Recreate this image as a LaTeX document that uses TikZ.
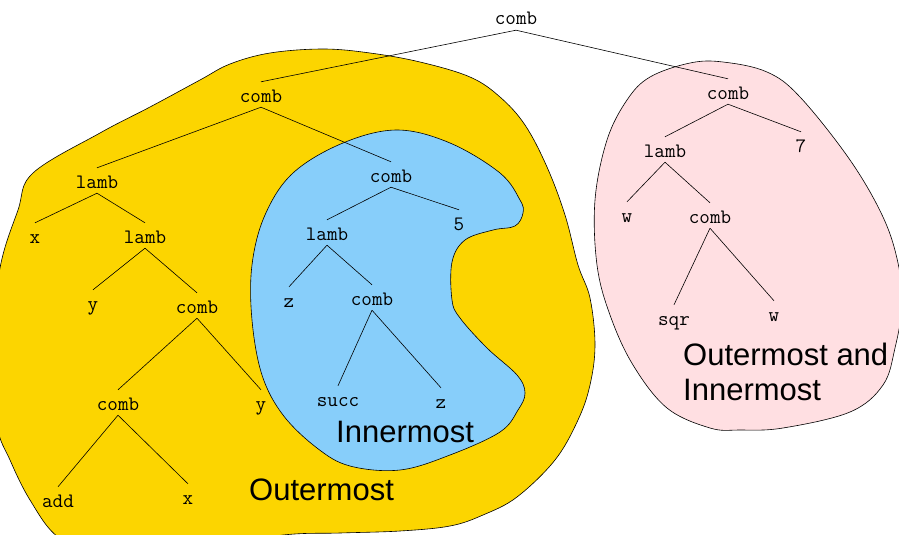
\documentclass[tikz,border=0pt]{standalone}
\usepackage{fontspec}
\newfontfamily\regionfont{Liberation Sans}
\definecolor{outerfill}{RGB}{252,213,0}
\definecolor{innerfill}{RGB}{135,206,250}
\definecolor{bothfill}{RGB}{255,223,226}

\begin{document}
\begin{tikzpicture}[x=1pt, y=-1pt,
  term/.style={font=\ttfamily\fontsize{20.5}{22}\selectfont, anchor=base, inner xsep=1pt, inner ysep=2pt, text height=18pt, text depth=3pt},
  edge/.style={black, line width=0.6pt},
  region/.style={draw=black, line width=0.6pt},
  regionlabel/.style={font=\regionfont\fontsize{31}{35}\selectfont, inner sep=0pt, align=left}]
  \useasboundingbox (0,0) rectangle (899,535);
  \clip (0,0) rectangle (899,535);
  % regions
  \draw[region, fill=outerfill] plot[smooth cycle, tension=0.6] coordinates {(33,173) (100,133) (150,107) (200,80) (230,64) (270,53) (323,49) (370,53) (420,62) (470,77) (500,97) (525,125) (547,167) (565,215) (578,265) (590,298) (595,345) (590,385) (578,420) (555,460) (517,497) (483,515) (450,526) (400,531) (340,533) (283,535) (200,548) (100,552) (58,537) (30,500) (10,460) (-3,425) (-8,350) (0,268) (18,210)};
  \draw[region, fill=innerfill] plot[smooth cycle, tension=0.6] coordinates {(397,130) (450,143) (500,173) (520,200) (523,213) (515,226) (493,230) (465,240) (452,262) (452,300) (460,318) (487,348) (517,375) (525,393) (518,410) (500,432) (450,455) (400,470) (350,466) (317,448) (283,415) (262,375) (252,320) (252,265) (265,215) (293,173) (343,143)};
  \draw[region, fill=bothfill] plot[smooth cycle, tension=0.6] coordinates {(723,62) (767,72) (800,97) (850,160) (883,217) (898,263) (902,305) (895,348) (883,385) (850,412) (783,428) (740,430) (710,428) (667,408) (633,365) (610,315) (597,265) (595,200) (607,140) (627,100) (650,77) (690,63)};
  % terms
  \node[term] (top) at (516,25) {comb};
  \node[term] (comb1) at (261,102) {comb};
  \node[term] (lamb1) at (97,188) {lamb};
  \node[term] (x1) at (35,243) {x};
  \node[term] (lamb2) at (145,243) {lamb};
  \node[term] (y1) at (93,310) {y};
  \node[term] (comb2) at (197,313) {comb};
  \node[term] (comb3) at (118,410) {comb};
  \node[term] (y2) at (261,410) {y};
  \node[term] (add) at (58,507) {add};
  \node[term] (x2) at (188,504) {x};
  \node[term] (combB) at (391,182) {comb};
  \node[term] (lambB) at (327,240) {lamb};
  \node[term] (five) at (459,230) {5};
  \node[term] (z1) at (289,307) {z};
  \node[term] (combB2) at (372,305) {comb};
  \node[term] (succ) at (338,406) {succ};
  \node[term] (z2) at (441,408) {z};
  \node[term] (combP) at (728,99) {comb};
  \node[term] (lambP) at (665,157) {lamb};
  \node[term] (seven) at (801,152) {7};
  \node[term] (w1) at (627,222) {w};
  \node[term] (combP2) at (710,223) {comb};
  \node[term] (sqr) at (674,325) {sqr};
  \node[term] (w2) at (774,321) {w};
  % edges
  \draw[edge] (top.south) -- (comb1.north);
  \draw[edge] (top.south) -- (combP.north);
  \draw[edge] (comb1.south) -- (lamb1.north);
  \draw[edge] (comb1.south) -- (combB.north);
  \draw[edge] (lamb1.south) -- (x1.north);
  \draw[edge] (lamb1.south) -- (lamb2.north);
  \draw[edge] (lamb2.south) -- (y1.north);
  \draw[edge] (lamb2.south) -- (comb2.north);
  \draw[edge] (comb2.south) -- (comb3.north);
  \draw[edge] (comb2.south) -- (y2.north);
  \draw[edge] (comb3.south) -- (add.north);
  \draw[edge] (comb3.south) -- (x2.north);
  \draw[edge] (combB.south) -- (lambB.north);
  \draw[edge] (combB.south) -- (five.north);
  \draw[edge] (lambB.south) -- (z1.north);
  \draw[edge] (lambB.south) -- (combB2.north);
  \draw[edge] (combB2.south) -- (succ.north);
  \draw[edge] (combB2.south) -- (z2.north);
  \draw[edge] (combP.south) -- (lambP.north);
  \draw[edge] (combP.south) -- (seven.north);
  \draw[edge] (lambP.south) -- (w1.north);
  \draw[edge] (lambP.south) -- (combP2.north);
  \draw[edge] (combP2.south) -- (sqr.north);
  \draw[edge] (combP2.south) -- (w2.north);
  % region labels
  \node[regionlabel, anchor=base west] (inner) at (336,442) {Innermost};
  \node[regionlabel, anchor=base west] (outer) at (249,500) {Outermost};
  \node[regionlabel, anchor=north west] (both) at (683,343) {Outermost and\\Innermost};
\end{tikzpicture}
\end{document}
